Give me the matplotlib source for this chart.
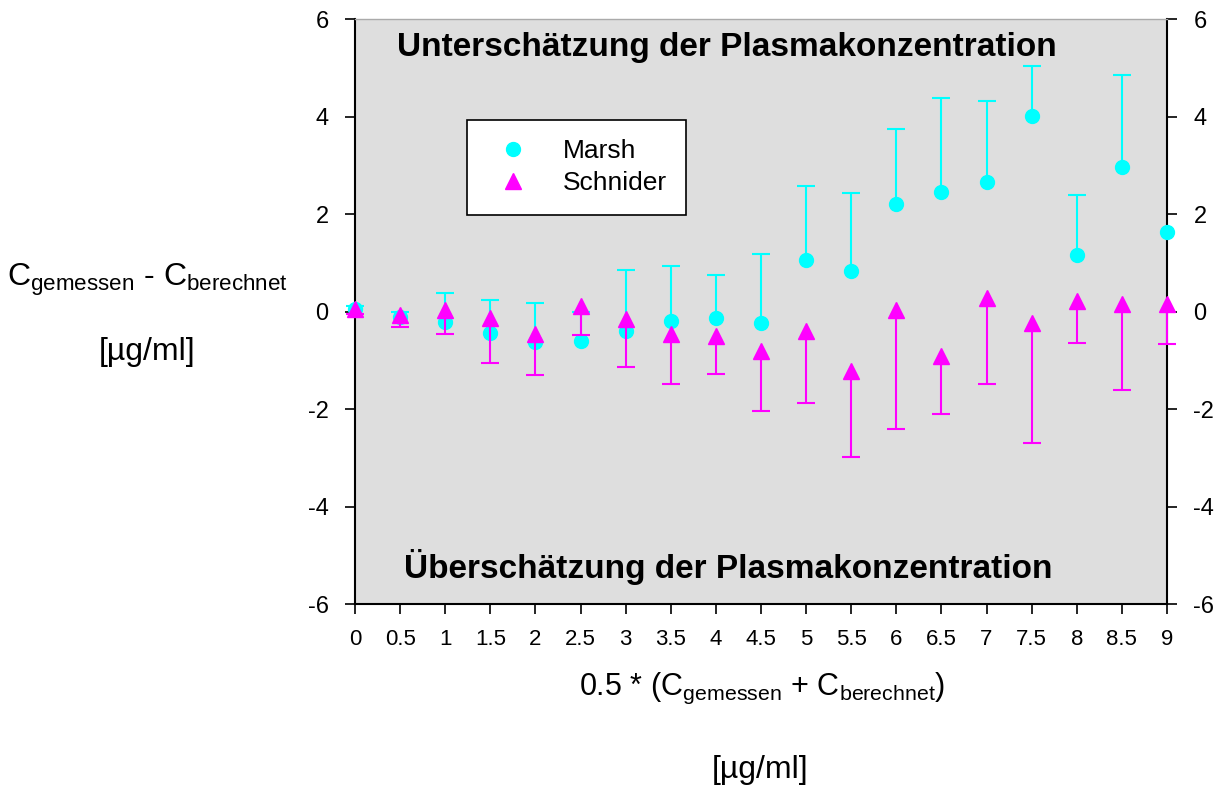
import numpy as np
import matplotlib
matplotlib.use("Agg")
import matplotlib.pyplot as plt
from matplotlib import font_manager
from matplotlib.lines import Line2D

plt.rcParams['font.family'] = ['Liberation Sans', 'DejaVu Sans']
plt.rcParams['mathtext.fontset'] = 'custom'
plt.rcParams['mathtext.rm'] = 'Liberation Sans'
plt.rcParams['mathtext.it'] = 'Liberation Sans'

# mean concentration bins [ug/ml]
x_vals = [0, 0.5, 1, 1.5, 2, 2.5, 3, 3.5, 4, 4.5, 5, 5.5, 6, 6.5, 7, 7.5, 8, 8.5, 9]
x_labels = ['0', '0.5', '1', '1.5', '2', '2.5', '3', '3.5', '4', '4.5',
            '5', '5.5', '6', '6.5', '7', '7.5', '8', '8.5', '9']

# measured - calculated, Marsh model (mean + upper SD)
marsh = [0.05, -0.12, -0.22, -0.45, -0.62, -0.60, -0.40, -0.20, -0.14, -0.23,
         1.05, 0.84, 2.21, 2.45, 2.65, 4.01, 1.16, 2.96, 1.63]
marsh_sd = [0.06, 0.11, 0.61, 0.69, 0.79, 0.60, 1.26, 1.13, 0.89, 1.41,
            1.52, 1.60, 1.53, 1.92, 1.67, 1.02, 1.24, 1.89, 0.0]

# measured - calculated, Schnider model (mean + lower SD)
schnider = [0.06, -0.08, 0.03, -0.14, -0.46, 0.12, -0.15, -0.46, -0.50, -0.80,
            -0.39, -1.23, 0.03, -0.92, 0.27, -0.23, 0.21, 0.16, 0.16]
schnider_sd = [0.12, 0.23, 0.50, 0.91, 0.85, 0.60, 0.99, 1.02, 0.78, 1.25,
               1.49, 1.76, 2.43, 1.19, 1.75, 2.46, 0.86, 1.76, 0.82]

y_ticks = [-6, -4, -2, 0, 2, 4, 6]

CYAN = '#00ffff'
MAGENTA = '#ff00ff'

# narrow bold face for the in-plot captions, if available
installed = {f.name for f in font_manager.fontManager.ttflist}
if 'Liberation Sans Narrow' in installed:
    caption_font = dict(family=['Liberation Sans Narrow', 'Liberation Sans'], fontsize=29)
else:
    caption_font = dict(family=['Liberation Sans', 'DejaVu Sans'], fontsize=24)

x = np.array(x_vals)
m = np.array(marsh)
s = np.array(schnider)
zeros = np.zeros(len(x))

fig = plt.figure(figsize=(12.22, 7.96), dpi=100)
ax = fig.add_axes([0.2905, 0.2412, 0.6645, 0.7349])
ax.set_facecolor('#dedede')

eb_m = ax.errorbar(x, m, yerr=[zeros, np.array(marsh_sd)], fmt='o', color=CYAN,
                   ecolor=CYAN, markersize=10, capsize=6.5, elinewidth=1.5,
                   capthick=1.5, clip_on=False, zorder=3)
eb_s = ax.errorbar(x, s, yerr=[np.array(schnider_sd), zeros], fmt='^', color=MAGENTA,
                   ecolor=MAGENTA, markersize=11, capsize=6.5, elinewidth=1.5,
                   capthick=1.5, clip_on=False, zorder=4)
# one-sided bars: drop the cap that sits on the marker
eb_m[1][0].set_visible(False)
eb_s[1][1].set_visible(False)
# no cap where the Marsh SD is zero
cap_y = eb_m[1][1].get_ydata()
eb_m[1][1].set_ydata(np.where(np.array(marsh_sd) > 0, cap_y, np.nan))

ax.set_xlim(0, 9)
ax.set_ylim(-6, 6)
ax.set_xticks(x)
ax.set_xticklabels(x_labels, fontsize=16)
ax.set_yticks(y_ticks)
ax.set_yticklabels([str(v) for v in y_ticks], fontsize=17)
ax.tick_params(axis='both', direction='out', length=7, width=1.2, color='black')
ax.tick_params(axis='x', pad=11)
ax.tick_params(axis='y', pad=12, labelright=True, right=True)

for side in ['left', 'right', 'bottom']:
    ax.spines[side].set_color('black')
    ax.spines[side].set_linewidth(1.5)
ax.spines['top'].set_color('#aaaaaa')
ax.spines['top'].set_linewidth(1.0)

ax.text(0.458, 0.951, 'Unterschätzung der Plasmakonzentration', transform=ax.transAxes,
        ha='center', va='center', fontweight='bold', **caption_font)
ax.text(0.46, 0.063, 'Überschätzung der Plasmakonzentration', transform=ax.transAxes,
        ha='center', va='center', fontweight='bold', **caption_font)

handles = [Line2D([], [], marker='o', linestyle='none', color=CYAN, markersize=10),
           Line2D([], [], marker='^', linestyle='none', color=MAGENTA, markersize=11)]
leg = ax.legend(handles, ['Marsh', 'Schnider'], loc='upper left',
                bbox_to_anchor=(0.138, 0.828), fontsize=19, frameon=True,
                fancybox=False, framealpha=1, edgecolor='black', borderpad=0.75,
                handlelength=2.0, handletextpad=0.87, labelspacing=0.3,
                borderaxespad=0)
leg.get_frame().set_linewidth(1.2)

fig.text(147 / 1222, 1 - 280 / 796,
         r'C$_{\mathrm{gemessen}}$ - C$_{\mathrm{berechnet}}$',
         ha='center', va='center', fontsize=23)
fig.text(147 / 1222, 1 - 352 / 796, '[µg/ml]', ha='center', va='center', fontsize=23)
fig.text(762 / 1222, 1 - 688 / 796,
         r'0.5 * (C$_{\mathrm{gemessen}}$ + C$_{\mathrm{berechnet}}$)',
         ha='center', va='center', fontsize=22)
fig.text(760 / 1222, 1 - 770 / 796, '[µg/ml]', ha='center', va='center', fontsize=23)

fig.savefig('out.png', dpi=100)
